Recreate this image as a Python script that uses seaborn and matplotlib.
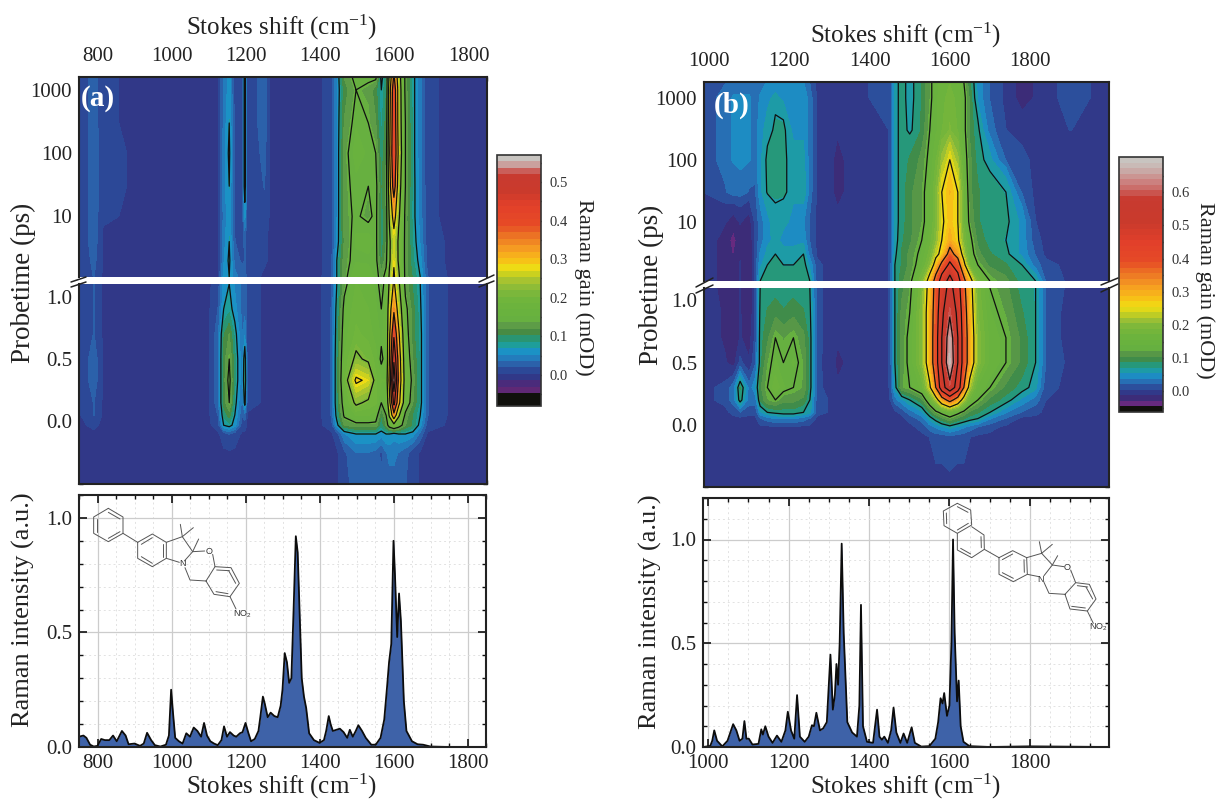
import numpy as np
import pandas as pd
import matplotlib
matplotlib.use("Agg")
import matplotlib.pyplot as plt
from matplotlib.colors import LinearSegmentedColormap, ListedColormap, BoundaryNorm
from matplotlib.ticker import FixedLocator, MultipleLocator, NullFormatter
import seaborn as sns

# --- map (a) ---
shift_a = [750, 790, 815, 900, 1000, 1100, 1125, 1140, 1155, 1170, 1190, 1197, 1204, 1250, 1265, 1400, 1430,
           1445, 1465, 1497, 1530, 1550, 1565, 1578, 1587, 1599, 1612, 1630, 1650, 1670, 1690, 1750, 1850]
early_t_a = [-0.5, -0.25, -0.1, -0.03, 0.05, 0.15, 0.33, 0.5, 0.7, 0.9, 1.1]
early_a = [
    [0, 0, 0, 0, 0, 0, 0, 0, 0, 0, 0, 0, 0, 0, 0, 0, 0, 0, .01, .03, .03, .03, .02, .03, .03, .03, .03, .02, .01, 0, 0, 0, 0],
    [0, 0, 0, 0, 0, 0, 0, 0, 0, 0, 0, 0, 0, 0, 0, 0, 0, 0, .015, .035, .035, .03, .015, .035, .04, .04, .035, .025, .01, 0, 0, 0, 0],
    [0, 0, 0, 0, 0, 0, 0, .01, .02, .01, 0, 0, 0, 0, 0, 0, 0, .01, .05, .07, .07, .07, .06, .07, .07, .06, .07, .07, .06, .03, 0, 0, 0],
    [0, .005, 0, 0, 0, 0, .01, .07, .08, .06, .01, .01, 0, 0, 0, 0, .01, .06, .12, .13, .13, .13, .09, .12, .16, .19, .16, .12, .1, .06, .01, 0, 0],
    [0, .02, 0, 0, 0, 0, .02, .09, .11, .07, .02, .03, 0, 0, 0, 0, .02, .08, .145, .17, .17, .16, .1, .14, .22, .33, .22, .13, .1, .07, .02, 0, 0],
    [0, .02, 0, 0, 0, 0, .03, .11, .14, .08, .03, .08, .01, 0, 0, 0, .02, .09, .16, .22, .2, .19, .14, .16, .26, .44, .3, .17, .12, .08, .02, 0, 0],
    [0, .03, 0, 0, 0, 0, .03, .11, .15, .09, .04, .1, .01, 0, 0, 0, .02, .09, .18, .29, .27, .19, .17, .17, .3, .54, .33, .18, .13, .08, .02, 0, 0],
    [0, .03, 0, 0, 0, 0, .03, .11, .14, .09, .04, .09, .01, 0, 0, 0, .02, .09, .17, .22, .2, .18, .13, .16, .28, .48, .32, .17, .12, .08, .02, 0, 0],
    [0, .02, 0, 0, 0, 0, .03, .1, .12, .08, .035, .05, .01, 0, 0, 0, .02, .085, .16, .19, .18, .16, .15, .16, .27, .41, .29, .16, .11, .08, .02, 0, 0],
    [0, .02, 0, 0, 0, 0, .02, .07, .08, .06, .03, .03, .01, 0, 0, 0, .02, .08, .15, .18, .17, .155, .14, .16, .25, .34, .25, .15, .11, .075, .02, 0, 0],
    [0, .02, 0, 0, 0, 0, .01, .06, .07, .05, .03, .03, .01, 0, 0, 0, .015, .07, .13, .17, .16, .15, .13, .15, .22, .29, .22, .13, .1, .07, .02, 0, 0],
]
late_t_a = [1.1, 2, 4, 10, 30, 100, 300, 1000, 1600]
late_a = [
    [0, .02, 0, 0, 0, 0, 0, .06, .07, .04, .03, .03, .01, 0, 0, 0, .015, .07, .13, .17, .16, .15, .13, .15, .22, .29, .22, .13, .1, .07, .02, 0, 0],
    [0, .025, 0, 0, 0, 0, 0, .05, .075, .03, .015, .02, .01, .005, 0, 0, .012, .07, .13, .15, .15, .15, .1, .13, .2, .27, .2, .13, .09, .06, .01, 0, 0],
    [0, .03, 0, 0, 0, 0, 0, .045, .07, .02, .01, .025, .005, .005, 0, 0, .012, .055, .12, .155, .16, .15, .09, .12, .2, .26, .2, .13, .085, .05, .01, 0, 0],
    [0, .03, .005, 0, 0, 0, 0, .04, .065, .015, .008, .06, .003, .015, 0, 0, .012, .05, .13, .145, .13, .15, .09, .12, .22, .31, .22, .13, .08, .045, .005, 0, 0],
    [0, .03, .01, 0, 0, 0, 0, .045, .07, .015, .008, .09, .003, .02, 0, 0, .012, .05, .13, .15, .14, .15, .1, .12, .25, .39, .24, .14, .08, .045, .005, 0, 0],
    [0, .03, .01, 0, 0, 0, 0, .045, .075, .015, .008, .09, .003, .025, 0, 0, .012, .05, .13, .16, .15, .14, .09, .12, .27, .42, .26, .14, .08, .04, .005, 0, 0],
    [0, .03, .005, 0, 0, 0, 0, .04, .07, .015, .008, .09, .003, .03, 0, 0, .012, .05, .12, .15, .14, .12, .08, .11, .26, .41, .25, .14, .08, .04, .005, 0, 0],
    [0, .03, .005, 0, 0, 0, 0, .04, .06, .01, .006, .09, .003, .03, 0, 0, .012, .05, .11, .14, .13, .11, .07, .1, .25, .4, .25, .13, .08, .04, .005, 0, 0],
    [0, .03, .005, 0, 0, 0, 0, .04, .06, .01, .006, .09, .003, .03, 0, 0, .012, .05, .12, .15, .15, .15, .06, .1, .23, .36, .24, .13, .08, .04, .005, 0, 0],
]

# --- map (b) ---
shift_b = [988, 1040, 1060, 1077, 1100, 1115, 1127, 1145, 1165, 1185, 1210, 1235, 1251, 1270, 1320, 1400, 1450, 1463,
           1480, 1500, 1530, 1550, 1565, 1580, 1600, 1620, 1635, 1650, 1670, 1700, 1740, 1780, 1814, 1840, 1900, 1997]
early_t_b = [-0.5, -0.1, -0.02, 0.05, 0.1, 0.2, 0.3, 0.5, 0.7, 0.9, 1.1]
early_b = [
    [0, 0, 0, 0, 0, 0, 0, 0, 0, 0, 0, 0, 0, 0, 0, 0, 0, 0, 0, 0, 0, 0, 0, 0, 0, 0, 0, 0, 0, 0, 0, 0, 0, 0, 0, 0],
    [0, 0, 0, 0, 0, 0, 0, 0, 0, 0, 0, 0, 0, 0, 0, 0, 0, 0, 0, 0, 0, .005, .01, .01, .015, .01, .01, .005, 0, 0, 0, 0, 0, 0, 0, 0],
    [0, 0, 0, 0, 0, 0, 0, 0, 0, 0, 0, 0, 0, 0, 0, 0, 0, 0, 0, 0, .01, .03, .04, .05, .06, .05, .04, .03, .02, .01, 0, 0, 0, 0, 0, 0],
    [0, 0, 0, 0, 0, 0, .02, .03, .04, .04, .04, .03, .02, 0, 0, 0, 0, 0, 0, .01, .03, .06, .08, .1, .12, .1, .09, .08, .07, .04, .02, 0, 0, 0, 0, 0],
    [0, 0, .01, .02, .01, .01, .05, .07, .075, .08, .08, .07, .06, .01, 0, 0, 0, 0, .01, .03, .05, .09, .12, .14, .16, .14, .12, .1, .09, .07, .04, .02, .01, 0, 0, 0],
    [0, .01, .03, .08, .03, .03, .09, .12, .13, .11, .11, .1, .07, .01, 0, 0, .003, .03, .05, .07, .1, .16, .22, .3, .37, .3, .22, .16, .13, .1, .08, .05, .03, .005, 0, 0],
    [0, .01, .03, .09, .03, .05, .1, .13, .17, .14, .13, .12, .08, .01, -.01, 0, .005, .06, .12, .13, .16, .24, .34, .48, .58, .48, .34, .22, .15, .13, .1, .08, .06, .01, 0, 0],
    [0, -.01, -.02, .01, -.01, .02, .08, .12, .14, .13, .14, .12, .08, .01, -.015, 0, .005, .07, .11, .14, .2, .29, .39, .52, .68, .52, .39, .3, .2, .15, .13, .1, .07, .02, 0, 0],
    [0, -.015, -.03, -.01, -.02, .01, .08, .1, .13, .12, .13, .11, .08, .01, -.01, 0, .005, .07, .11, .14, .2, .29, .39, .52, .66, .52, .39, .3, .2, .15, .13, .1, .07, .02, -.005, 0],
    [0, -.015, -.03, -.01, -.03, .01, .075, .09, .1, .09, .1, .09, .075, .01, -.01, 0, .005, .07, .11, .13, .2, .29, .38, .5, .6, .5, .38, .29, .19, .14, .12, .09, .07, .02, -.005, 0],
    [0, -.02, -.03, -.01, -.03, .01, .07, .08, .08, .08, .08, .08, .07, .01, -.01, 0, .005, .07, .1, .12, .19, .28, .37, .47, .55, .47, .36, .28, .18, .13, .11, .08, .07, .02, 0, 0],
]
late_t_b = [1.1, 2, 3, 5, 10, 30, 100, 300, 1000, 1800]
late_b = [
    [0, -.02, -.03, -.01, -.03, .01, .07, .08, .08, .08, .08, .08, .07, .01, -.01, 0, .005, .07, .1, .12, .19, .28, .37, .47, .55, .47, .36, .28, .18, .13, .11, .08, .07, .02, 0, 0],
    [0, -.02, -.03, -.01, -.03, .01, .05, .07, .08, .07, .07, .08, .05, .01, -.01, 0, .005, .07, .09, .11, .15, .2, .28, .36, .45, .38, .27, .17, .13, .1, .09, .07, .03, .01, 0, 0],
    [0, -.02, -.03, -.015, -.03, .01, .04, .06, .07, .06, .06, .07, .03, 0, -.01, 0, .005, .065, .09, .11, .14, .18, .23, .27, .37, .31, .22, .15, .11, .09, .075, .05, .02, 0, 0, 0],
    [0, -.02, -.035, -.02, -.03, .01, .03, .05, .06, .05, .05, .05, .02, 0, -.01, 0, .005, .06, .085, .1, .13, .16, .2, .25, .3, .26, .19, .14, .1, .08, .07, .05, .01, 0, 0, 0],
    [0, -.01, -.02, -.01, -.02, .01, .03, .05, .065, .06, .05, .04, .02, 0, -.01, 0, .005, .06, .08, .1, .12, .15, .19, .24, .28, .25, .17, .12, .09, .08, .075, .05, .005, 0, 0, 0],
    [.005, .02, .03, .03, .02, .02, .05, .072, .075, .075, .06, .07, .03, 0, -.015, 0, .005, .06, .08, .1, .12, .15, .19, .25, .29, .25, .17, .11, .09, .08, .07, .02, 0, 0, 0, 0],
    [.01, .03, .04, .045, .04, .03, .05, .075, .078, .075, .06, .06, .03, 0, -.015, 0, .005, .06, .08, .09, .11, .14, .17, .21, .25, .21, .15, .11, .08, .06, .02, .01, 0, 0, 0, 0],
    [.01, .03, .04, .04, .04, .03, .05, .06, .075, .075, .05, .05, .03, 0, -.01, 0, .005, .06, .08, .065, .09, .13, .15, .17, .19, .17, .14, .1, .075, .03, .005, -.005, 0, 0, .005, 0],
    [.01, .03, .04, .04, .04, .03, .04, .05, .06, .05, .045, .05, .03, 0, -.005, .005, .005, .06, .08, .06, .09, .12, .15, .165, .18, .165, .14, .1, .05, .02, 0, -.02, -.01, 0, .01, 0],
    [.005, .02, .03, .03, .03, .03, .03, .04, .04, .04, .04, .04, .02, 0, 0, .005, .005, .06, .08, .06, .09, .12, .15, .16, .17, .16, .13, .09, .05, .02, 0, -.02, -.01, 0, .01, 0],
]

# --- spectra ---
raman_x_a = [750, 762, 770, 780, 790, 800, 810, 820, 832, 842, 852, 866, 876, 884, 900, 915, 925, 934, 945, 955, 970, 985,
             993, 999, 1004, 1010, 1020, 1030, 1040, 1050, 1060, 1070, 1080, 1088, 1096, 1105, 1115, 1125, 1135, 1142,
             1150, 1158, 1168, 1175, 1185, 1192, 1200, 1208, 1215, 1225, 1235, 1240, 1247, 1252, 1260, 1268, 1278, 1287,
             1295, 1300, 1306, 1312, 1318, 1324, 1330, 1336, 1341, 1346, 1352, 1358, 1364, 1372, 1385, 1400, 1412, 1418,
             1425, 1430, 1436, 1455, 1465, 1475, 1482, 1490, 1498, 1505, 1515, 1525, 1540, 1552, 1565, 1575, 1583, 1588,
             1594, 1600, 1604, 1610, 1615, 1620, 1628, 1635, 1650, 1665, 1680, 1700, 1750, 1850]
raman_y_a = [.045, .05, .04, .01, .002, .005, .035, .03, .03, .05, .025, .07, .05, .012, .015, .005, .015, .062, .03, .008, .002, .01,
             .05, .25, .15, .04, .025, .015, .06, .045, .085, .07, .045, .105, .05, .025, .015, .008, .03, .09,
             .045, .065, .05, .045, .06, .065, .105, .06, .025, .035, .07, .13, .22, .19, .13, .15, .135, .13,
             .18, .25, .41, .37, .28, .3, .6, .92, .85, .6, .3, .22, .17, .06, .03, .018, .03, .07,
             .135, .1, .07, .08, .065, .04, .075, .045, .07, .095, .07, .04, .01, .01, .04, .12, .27, .37,
             .45, .9, .75, .48, .67, .55, .2, .07, .025, .012, .01, .002, 0, 0]
raman_x_b = [988, 1005, 1010, 1015, 1022, 1035, 1048, 1062, 1070, 1078, 1085, 1090, 1095, 1101, 1110, 1125, 1132, 1136, 1142,
             1150, 1160, 1171, 1182, 1192, 1198, 1206, 1214, 1221, 1228, 1240, 1250, 1258, 1263, 1269, 1278, 1286, 1295,
             1304, 1310, 1315, 1319, 1323, 1327, 1332, 1337, 1346, 1358, 1370, 1376, 1380, 1385, 1395, 1410, 1420, 1426,
             1432, 1438, 1447, 1455, 1461, 1468, 1478, 1486, 1495, 1506, 1514, 1530, 1550, 1565, 1572, 1578, 1583, 1587,
             1594, 1600, 1605, 1609, 1613, 1619, 1623, 1628, 1635, 1650, 1700, 1800, 1997]
raman_y_b = [0, .005, .03, .08, .03, .003, .03, .11, .08, .03, .04, .125, .04, .04, .012, .015, .085, .06, .1,
             .05, .02, .055, .025, .08, .17, .08, .04, .25, .05, .025, .05, .105, .1, .165, .08, .09, .12,
             .445, .18, .25, .4, .3, .5, .98, .55, .12, .07, .05, .2, .685, .1, .025, .02, .18, .05,
             .035, .05, .02, .08, .19, .07, .02, .065, .02, .095, .02, .002, .004, .04, .12, .235, .21, .26,
             .15, .2, .5, 1.0, .55, .22, .32, .1, .025, .004, 0, .003, 0]

# --- colour scale anchors ---
bar_a_vals = [-.081, -.052, -.05, -.035, -.018, 0, .015, .03, .05, .065, .08, .095, .11, .125, .14, .19, .22, .24, .26, .28, .30, .33, .36, .39, .44, .48, .52, .535, .556]
bar_b_vals = [-.062, -.052, -.05, -.04, -.02, 0, .012, .025, .04, .052, .07, .085, .1, .115, .13, .17, .2, .215, .235, .255, .285, .32, .355, .39, .45, .51, .58, .625, .69]
bar_colors = ["#10100c", "#10100c", "#4e2464", "#6a2a80", "#3a2c78", "#2d3e90", "#2c4f9c", "#2b66ae", "#1f86c2", "#1a96c6", "#1fa08c",
              "#2a9470", "#458a42", "#5c9a48", "#66b040", "#6eb43c", "#80b83a", "#a0c034", "#c8d020", "#f0dc14", "#f8bc18", "#f59a22",
              "#ec7424", "#e64a26", "#e2402a", "#c93a2c", "#c83a30", "#cc7a78", "#c8c4c0"]

W, H = 1217, 801
FILL = "#3e62a8"
INK = "#222222"


def box(l, t, r, b):
    return [l / W, 1 - b / H, (r - l) / W, (b - t) / H]


def make_scale(vals, step):
    pos = [(v - vals[0]) / (vals[-1] - vals[0]) for v in vals]
    base = LinearSegmentedColormap.from_list("gain", list(zip(pos, bar_colors)))
    levels = np.arange(vals[0], vals[-1] + step, step)
    mids = (levels[:-1] + levels[1:]) / 2
    cmap = ListedColormap(base((mids - vals[0]) / (vals[-1] - vals[0])))
    return cmap, levels, BoundaryNorm(levels, cmap.N)


def style_axes(ax, major=200, minor=50):
    ax.xaxis.set_major_locator(MultipleLocator(major))
    ax.xaxis.set_minor_locator(MultipleLocator(minor))
    ax.tick_params(which="major", direction="in", length=6, width=1.2, top=True, right=True, bottom=True, left=True,
                   labelsize=15, pad=5, color="#111111", labelcolor=INK)
    ax.tick_params(which="minor", direction="in", length=3, width=1, top=True, right=True, bottom=True, left=True, color="#111111")
    for s in ax.spines.values():
        s.set_linewidth(1.5)
        s.set_color("#222222")


def draw_map(rect_top, rect_low, xlim, top_ylim, shift, late_t, late, early_t, early, vals, contour_levels):
    cmap, levels, norm = make_scale(vals, 0.0167)
    top = fig.add_axes(box(*rect_top))
    low = fig.add_axes(box(*rect_low))
    cf = None
    for ax, t, z in ((top, late_t, late), (low, early_t, early)):
        z = np.clip(np.array(z, dtype=float), vals[0] + 1e-3, vals[-1] - 1e-3)
        cf = ax.contourf(shift, t, z, levels=levels, cmap=cmap, norm=norm)
        ax.contour(shift, t, z, levels=contour_levels, colors="#101010", linewidths=0.9)
        ax.set_xlim(*xlim)
        style_axes(ax)
    top.set_yscale("log")
    top.set_ylim(1.1, top_ylim)
    top.yaxis.set_major_locator(FixedLocator([10, 100, 1000]))
    top.set_yticklabels(["10", "100", "1000"])
    top.yaxis.set_minor_locator(FixedLocator([m * d for d in (1, 10, 100, 1000) for m in range(2, 10) if 1.1 < m * d < top_ylim]))
    top.yaxis.set_minor_formatter(NullFormatter())
    top.xaxis.tick_top()
    top.tick_params(axis="x", which="both", top=True, bottom=False)
    top.tick_params(axis="x", which="major", pad=8)
    top.spines["bottom"].set_visible(False)
    low.set_ylim(-0.5, 1.1)
    low.yaxis.set_major_locator(FixedLocator([0, 0.5, 1.0]))
    low.set_yticklabels(["0.0", "0.5", "1.0"])
    low.yaxis.set_minor_locator(MultipleLocator(0.1))
    low.tick_params(axis="x", which="both", top=False, labelbottom=False)
    low.spines["top"].set_visible(False)
    return cf


def draw_bar(cf, rect, ticks, minor):
    cax = fig.add_axes(box(*rect))
    cb = fig.colorbar(cf, cax=cax, ticks=ticks, spacing="proportional")
    cb.ax.set_yticklabels([f"{t:.1f}" for t in ticks])
    cb.ax.yaxis.set_minor_locator(FixedLocator(minor))
    cb.ax.tick_params(which="both", direction="in", left=True, right=True, length=5, width=1, color="#111111",
                      labelsize=10.5, labelcolor="#333333", pad=6)
    cb.outline.set_linewidth(1.2)
    cb.outline.set_edgecolor("#333333")


def draw_spectrum(rect, x, y, xlim, ylim, xmajor):
    ax = fig.add_axes(box(*rect))
    spec = pd.DataFrame({"shift": x, "raman": y})
    ax.set_axisbelow(True)
    ax.fill_between(spec["shift"], spec["raman"], 0, color=FILL, lw=0)
    sns.lineplot(data=spec, x="shift", y="raman", ax=ax, color="#0c0c0c", lw=1.3, estimator=None, sort=False)
    ax.set_xlim(*xlim)
    ax.set_ylim(*ylim)
    ax.set_xlabel("")
    ax.set_ylabel("")
    style_axes(ax, xmajor, 50)
    ax.yaxis.set_major_locator(MultipleLocator(0.5))
    ax.yaxis.set_minor_locator(MultipleLocator(0.1))
    ax.grid(which="major", axis="both", color="#cccccc", lw=0.9)
    ax.grid(which="minor", axis="both", color="#e2e2e2", lw=0.7, ls=(0, (2, 3)))
    ax.yaxis.set_major_formatter(lambda v, p: f"{v:.1f}")
    return ax


sns.set_theme(style="ticks")
plt.rcParams["font.family"] = ["Liberation Serif", "DejaVu Serif"]
plt.rcParams["mathtext.default"] = "regular"

fig = plt.figure(figsize=(W / 100, H / 100), dpi=100)

cf_a = draw_map((79, 77, 487, 277), (79, 284, 487, 484), (750, 1850), 1600, shift_a, late_t_a, late_a, early_t_a, early_a,
                bar_a_vals, [.07, .14, .21, .28, .35, .42, .49])
cf_b = draw_map((704, 82, 1109, 281), (704, 288, 1109, 487), (987, 1997), 1800, shift_b, late_t_b, late_b, early_t_b, early_b,
                bar_b_vals, [.07, .13, .25, .34, .43, .52, .61])
draw_bar(cf_a, (497, 155, 541, 406), [0, .1, .2, .3, .4, .5], [-.05, .05, .15, .25, .35, .45, .55])
draw_bar(cf_b, (1119, 157, 1163, 412), [0, .1, .2, .3, .4, .5, .6], [-.05, .05, .15, .25, .35, .45, .55, .65])
draw_spectrum((79, 495, 486, 747), raman_x_a, raman_y_a, (750, 1850), (0, 1.1), 200)
draw_spectrum((703, 498, 1109, 747), raman_x_b, raman_y_b, (987, 1997), (0, 1.2), 200)

# overlay in picture pixels for labels, axis breaks and the two molecule sketches
over = fig.add_axes([0, 0, 1, 1], zorder=20)
over.set_xlim(0, W)
over.set_ylim(H, 0)
over.axis("off")
over.patch.set_visible(False)

xlab = "Stokes shift (cm$^{-1}$)"
for x, y in ((282, 27), (906, 35), (282, 786), (906, 786)):
    over.text(x, y, xlab, ha="center", va="center", fontsize=18, color=INK)
over.text(23, 283, "Probetime (ps)", rotation=90, ha="center", va="center", fontsize=19.5, color=INK)
over.text(651, 285, "Probetime (ps)", rotation=90, ha="center", va="center", fontsize=19.5, color=INK)
over.text(23, 610, "Raman intensity (a.u.)", rotation=90, ha="center", va="center", fontsize=19, color=INK)
over.text(650, 612, "Raman intensity (a.u.)", rotation=90, ha="center", va="center", fontsize=19, color=INK)
over.text(584, 287, "Raman gain (mOD)", rotation=-90, ha="center", va="center", fontsize=16, color=INK)
over.text(1205, 290, "Raman gain (mOD)", rotation=-90, ha="center", va="center", fontsize=16, color=INK)
over.text(81, 98, "(a)", color="white", fontsize=21, fontweight="bold", va="center")
over.text(714, 105, "(b)", color="white", fontsize=21, fontweight="bold", va="center")

breaks = [((71, 282), (86, 277)), ((71, 287), (86, 282)), ((479, 282), (494, 275)), ((479, 287), (494, 281)),
          ((696, 287), (713, 278)), ((696, 293), (713, 285)), ((1101, 285), (1118, 278)), ((1101, 292), (1118, 284))]
for p, q in breaks:
    over.plot([p[0], q[0]], [p[1], q[1]], color="#222222", lw=1.1)

# molecule bonds, traced in zoom coordinates of the lower panels
mol_a = [[(325, 70), (369, 96), (369, 145), (325, 170), (281, 145), (281, 96), (325, 70)],
         [(325, 82), (360, 102)], [(360, 140), (325, 160)], [(290, 140), (290, 102)],
         [(369, 145), (413, 172), (457, 147), (499, 172), (499, 220), (457, 245), (413, 220), (413, 172)],
         [(424, 178), (457, 158)], [(490, 178), (490, 215)], [(424, 215), (457, 235)],
         [(499, 172), (547, 155), (578, 200), (553, 228)], [(538, 232), (499, 220)],
         [(547, 155), (541, 118)], [(547, 155), (580, 128)], [(578, 200), (596, 162)], [(578, 200), (614, 198)],
         [(555, 248), (570, 285), (618, 288)], [(638, 208), (645, 245)],
         [(618, 288), (645, 245), (693, 248), (718, 295), (690, 335), (642, 328), (618, 288)],
         [(650, 255), (688, 257)], [(707, 295), (686, 257)], [(684, 326), (648, 320)],
         [(690, 335), (708, 372)]]
mol_b = [[(1012, 55), (1052, 75), (1055, 120), (1012, 145), (972, 122), (970, 78), (1012, 55)],
         [(1012, 65), (1044, 82)], [(1045, 115), (1012, 135)], [(980, 116), (979, 84)],
         [(1055, 125), (1092, 150), (1093, 193), (1055, 218), (1012, 195), (1012, 145)],
         [(1083, 155), (1084, 188)], [(1052, 207), (1022, 190)],
         [(1093, 193), (1137, 218), (1178, 197), (1220, 218), (1222, 268), (1180, 290), (1137, 268), (1137, 218)],
         [(1147, 224), (1178, 207)], [(1212, 224), (1213, 262)], [(1147, 263), (1180, 280)],
         [(1220, 218), (1265, 205), (1297, 240), (1272, 272)], [(1257, 275), (1222, 268)],
         [(1265, 205), (1258, 170)], [(1265, 205), (1297, 178)], [(1297, 240), (1313, 212)], [(1297, 240), (1332, 245)],
         [(1352, 255), (1367, 293)], [(1272, 292), (1287, 325), (1335, 328)],
         [(1335, 328), (1367, 293), (1408, 298), (1428, 342), (1402, 378), (1350, 372), (1335, 328)],
         [(1372, 302), (1403, 306)], [(1418, 342), (1398, 306)], [(1396, 369), (1355, 364)],
         [(1402, 378), (1420, 415)]]
for chain in mol_a:
    xs, ys = zip(*chain)
    over.plot([v / 3 for v in xs], [v / 3 + 485 for v in ys], color="#555555", lw=0.7)
for chain in mol_b:
    xs, ys = zip(*chain)
    over.plot([v / 3 + 620 for v in xs], [v / 3 + 485 for v in ys], color="#555555", lw=0.7)
atom_font = dict(fontsize=6.5, color="#333333", ha="center", va="center", family="Liberation Sans")
over.text(182, 564, "N", **atom_font)
over.text(209, 552, "O", **atom_font)
over.text(242, 614, "NO$_2$", **atom_font)
over.text(1041, 579, "N", **atom_font)
over.text(1067, 568, "O", **atom_font)
over.text(1098, 627, "NO$_2$", **atom_font)

fig.savefig("out.png", dpi=100)
